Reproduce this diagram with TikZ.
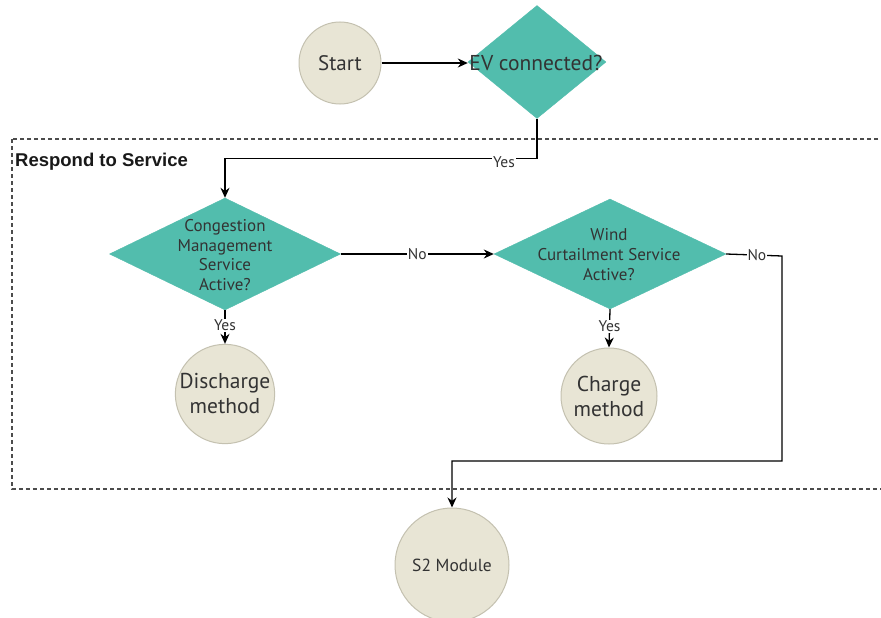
\documentclass[tikz,border=0pt]{standalone}
\usepackage{fontspec}
\setmainfont{PT Sans}
\newfontfamily\headfont{Liberation Sans}
\usetikzlibrary{shapes.geometric,arrows.meta}
\definecolor{tealfill}{HTML}{52BDAD}
\definecolor{sand}{HTML}{E8E5D5}
\definecolor{sandline}{HTML}{C4C1B0}
\definecolor{ink}{HTML}{333333}
\tikzset{
  decision/.style={diamond, fill=tealfill, draw=tealfill, inner sep=0pt, text=ink, align=center},
  terminal/.style={circle, fill=sand, draw=sandline, line width=1pt, inner sep=0pt, text=ink, align=center},
  flow/.style={draw=black, line width=1.3pt, -{Stealth[length=10pt,width=9pt]}},
  tag/.style={fill=white, inner sep=1pt, text=ink, font=\fontsize{15.5}{15.5}\selectfont},
}
\begin{document}
\begin{tikzpicture}[x=1pt,y=-1pt]
\clip (0,0) rectangle (881,618);
\fill[white] (0,0) rectangle (881,618);

% service region
\draw[dash pattern=on 4pt off 3pt, draw=black!70, line width=1.2pt] (12,139) rectangle (900,489);
\node[anchor=west, inner sep=0pt, font=\headfont\bfseries\fontsize{18.5}{18.5}\selectfont, text=black!90] (region) at (15,162) {Respond to Service};

% nodes
\node[terminal, minimum size=82pt, font=\fontsize{21}{21}\selectfont] (start) at (340,63) {Start};
\node[decision, minimum width=138pt, minimum height=113pt] (ev) at (537,62) {};
\node[text=ink, font=\fontsize{21.5}{21.5}\selectfont] (evt) at (536,63) {EV connected?};
\node[decision, minimum width=231pt, minimum height=112pt] (cm) at (225,254) {};
\node[text=ink, align=center, font=\fontsize{17}{19.5}\selectfont] (cmt) at (225,255) {Congestion\\Management\\Service\\Active?};
\node[decision, minimum width=232pt, minimum height=110pt] (wc) at (610,254) {};
\node[text=ink, align=center, font=\fontsize{17}{20}\selectfont] (wct) at (609,255) {Wind\\Curtailment Service\\Active?};
\node[terminal, minimum size=94pt, font=\fontsize{21.5}{25}\selectfont] (dis) at (225,394) {Discharge\\method};
\node[terminal, minimum size=96pt, font=\fontsize{21.5}{25}\selectfont] (chg) at (609,396) {Charge\\method};
\node[terminal, minimum size=114pt, font=\fontsize{17.5}{17.5}\selectfont] (s2) at (452,565) {S2 Module};

% connectors
\draw[flow] (start.east) -- (start.east -| ev.west);
\draw[flow] (ev.south) -- ++(0,40) -| (cm.north) node[tag, pos=0.053, yshift=-3pt] {Yes};
\draw[flow] (cm.east) -- (wc.west) node[tag, midway] {No};
\draw[flow] (cm.south) -- (dis.north) node[tag, pos=0.45] {Yes};
\draw[flow] (wc.south) -- (chg.north) node[tag, pos=0.45] {Yes};
\coordinate (turn) at (782,461);
\draw[flow] (wc.east) -- (782,256) node[tag, pos=0.55] {No} -- (turn) -| (s2.north);
\end{tikzpicture}
\end{document}
